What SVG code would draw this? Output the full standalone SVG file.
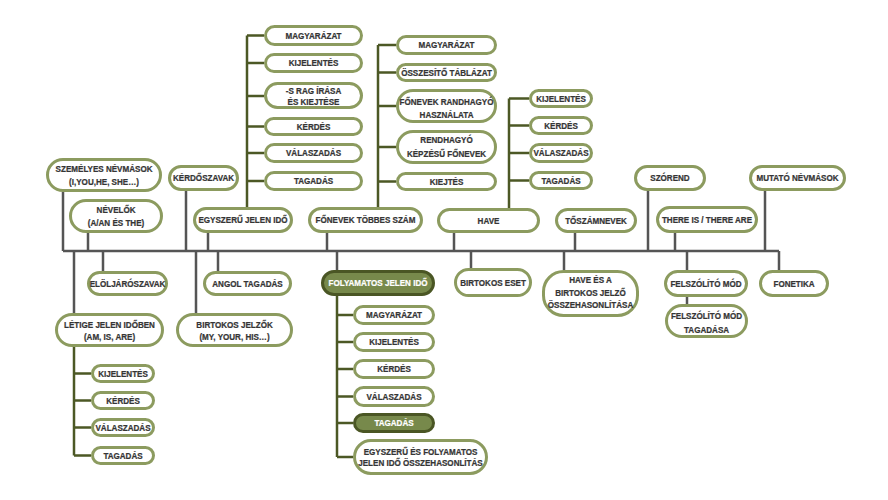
<svg xmlns="http://www.w3.org/2000/svg" width="888" height="500" viewBox="0 0 888 500">
<style>
.n rect{fill:#fff;stroke:#8c9b5f;stroke-width:3}
.n.f rect{fill:#77894b;stroke:#4a5624}
text{font-family:"Liberation Sans",Arial,sans-serif;font-weight:bold;font-size:9.5px;fill:#353535;stroke:#353535;stroke-width:0.25;text-anchor:middle;transform-box:fill-box;transform-origin:center;transform:scaleX(0.85)}
.n.f text{fill:#fff;stroke:#fff}
.trunk{stroke:#555;stroke-width:2.5;fill:none}
.branch{stroke:#4c5825;stroke-width:2.5;fill:none}
</style>
<rect width="888" height="500" fill="#fff"/>
<g id="connectors">
<path class="trunk" d="M63,251H779 M63,192V251 M88,233V251 M186,191V251 M208,233V251 M327,233V251 M454,233V251 M575,233V251 M648,191V251 M675,233V251 M765,191V251 M74,251V313 M103,251V271 M196,251V313 M218,251V271 M337,251V270 M471,251V268 M564,251V270 M687,251V270 M779,251V270 M687,297V304"/>
<path class="branch" d="M74,347V455.5 M74,373.5H91 M74,400.5H91 M74,427.5H91 M74,455.5H91"/>
<path class="branch" d="M247,35.5V207 M247,35.5H264 M247,63H264 M247,96H264 M247,126.5H264 M247,153H264 M247,181H264"/>
<path class="branch" d="M378,45V207 M378,45H396 M378,72.5H396 M378,106H396 M378,147H396 M378,181.5H396"/>
<path class="branch" d="M509,98.5V208 M509,98.5H529 M509,125.5H529 M509,153H529 M509,180.5H529"/>
<path class="branch" d="M337,296V457 M337,315H353 M337,342H353 M337,369H353 M337,396.5H353 M337,423H353 M337,457H353"/>
</g>
<g id="szemelyes" class="n"><rect x="47.5" y="159.5" width="113" height="31" rx="15.5"/><text x="104" y="172.4">SZEMÉLYES NÉVMÁSOK</text><text x="104" y="185.1">(I,YOU,HE, SHE…)</text></g>
<g id="nevelok" class="n"><rect x="70.5" y="200.5" width="91" height="31" rx="15.5"/><text x="116" y="213.4">NÉVELŐK</text><text x="116" y="225.7">(A/AN ÉS THE)</text></g>
<g id="kerdoszavak" class="n"><rect x="169.5" y="166.5" width="68" height="23" rx="11.5"/><text x="203.5" y="181.4">KÉRDŐSZAVAK</text></g>
<g id="egyszeru" class="n"><rect x="194.5" y="208.5" width="97" height="23" rx="11.5"/><text x="243" y="223.4">EGYSZERŰ JELEN IDŐ</text></g>
<g id="eloljaro" class="n"><rect x="88.5" y="272.5" width="78" height="22" rx="11"/><text x="127.5" y="286.9">ELÖLJÁRÓSZAVAK</text></g>
<g id="angol" class="n"><rect x="204.5" y="272.5" width="86" height="22" rx="11"/><text x="247.5" y="286.9">ANGOL TAGADÁS</text></g>
<g id="letige" class="n"><rect x="56.5" y="314.5" width="106" height="31" rx="15.5"/><text x="109.5" y="327.7">LÉTIGE JELEN IDŐBEN</text><text x="109.5" y="340.1">(AM, IS, ARE)</text></g>
<g id="birtjelz" class="n"><rect x="177.5" y="314.5" width="114" height="31" rx="15.5"/><text x="234.5" y="327.7">BIRTOKOS JELZŐK</text><text x="234.5" y="340.1">(MY, YOUR, HIS…)</text></g>
<g id="letige-kij" class="n"><rect x="92.5" y="365.5" width="61" height="16" rx="8"/><text x="123" y="377">KIJELENTÉS</text></g>
<g id="letige-ker" class="n"><rect x="92.5" y="392.5" width="61" height="16" rx="8"/><text x="123" y="404">KÉRDÉS</text></g>
<g id="letige-val" class="n"><rect x="92.5" y="419.5" width="61" height="16" rx="8"/><text x="123" y="431">VÁLASZADÁS</text></g>
<g id="letige-tag" class="n"><rect x="92.5" y="447.5" width="61" height="16" rx="8"/><text x="123" y="459">TAGADÁS</text></g>
<g id="egy-magy" class="n"><rect x="265.5" y="26.5" width="96" height="18" rx="9"/><text x="313.5" y="38.9">MAGYARÁZAT</text></g>
<g id="egy-kij" class="n"><rect x="265.5" y="54.5" width="96" height="17" rx="8.5"/><text x="313.5" y="66.4">KIJELENTÉS</text></g>
<g id="egy-srag" class="n"><rect x="265.5" y="83.5" width="96" height="24" rx="12"/><text x="313.5" y="94.4">-S RAG ÍRÁSA</text><text x="313.5" y="105.1">ÉS KIEJTÉSE</text></g>
<g id="egy-ker" class="n"><rect x="265.5" y="118.5" width="96" height="16" rx="8"/><text x="313.5" y="129.9">KÉRDÉS</text></g>
<g id="egy-val" class="n"><rect x="265.5" y="144.5" width="96" height="17" rx="8.5"/><text x="313.5" y="156.4">VÁLASZADÁS</text></g>
<g id="egy-tag" class="n"><rect x="265.5" y="172.5" width="96" height="17" rx="8.5"/><text x="313.5" y="184.4">TAGADÁS</text></g>
<g id="fonevek" class="n"><rect x="309.5" y="208.5" width="112" height="23" rx="11.5"/><text x="365.5" y="223.4">FŐNEVEK TÖBBES SZÁM</text></g>
<g id="fon-magy" class="n"><rect x="397.5" y="36.5" width="98" height="17" rx="8.5"/><text x="446.5" y="48.4">MAGYARÁZAT</text></g>
<g id="fon-ossz" class="n"><rect x="397.5" y="64.5" width="98" height="16" rx="8"/><text x="446.5" y="75.9">ÖSSZESÍTŐ TÁBLÁZAT</text></g>
<g id="fon-rand" class="n"><rect x="397.5" y="90.5" width="98" height="31" rx="15.5"/><text x="446.5" y="105.1">FŐNEVEK RANDHAGYÓ</text><text x="446.5" y="117.7">HASZNÁLATA</text></g>
<g id="fon-rend" class="n"><rect x="397.5" y="131.5" width="98" height="31" rx="15.5"/><text x="446.5" y="143.4">RENDHAGYÓ</text><text x="446.5" y="156.7">KÉPZÉSŰ FŐNEVEK</text></g>
<g id="fon-kiej" class="n"><rect x="397.5" y="173.5" width="98" height="16" rx="8"/><text x="446.5" y="184.9">KIEJTÉS</text></g>
<g id="have" class="n"><rect x="438.5" y="209.5" width="100" height="22" rx="11"/><text x="488.5" y="224">HAVE</text></g>
<g id="have-kij" class="n"><rect x="530.5" y="90.5" width="61" height="16" rx="8"/><text x="561" y="101.9">KIJELENTÉS</text></g>
<g id="have-ker" class="n"><rect x="530.5" y="117.5" width="61" height="16" rx="8"/><text x="561" y="128.9">KÉRDÉS</text></g>
<g id="have-val" class="n"><rect x="530.5" y="144.5" width="61" height="17" rx="8.5"/><text x="561" y="156.4">VÁLASZADÁS</text></g>
<g id="have-tag" class="n"><rect x="530.5" y="172.5" width="61" height="16" rx="8"/><text x="561" y="183.9">TAGADÁS</text></g>
<g id="toszam" class="n"><rect x="556.5" y="209.5" width="79" height="22" rx="11"/><text x="596" y="224">TŐSZÁMNEVEK</text></g>
<g id="birteset" class="n"><rect x="455.5" y="269.5" width="75" height="26" rx="13"/><text x="493" y="286">BIRTOKOS ESET</text></g>
<g id="havees" class="n"><rect x="543.5" y="271.5" width="94" height="44" rx="20"/><text x="590.5" y="283.4">HAVE ÉS A</text><text x="590.5" y="295.7">BIRTOKOS JELZŐ</text><text x="590.5" y="308.4">ÖSSZEHASONLÍTÁSA</text></g>
<g id="szorend" class="n"><rect x="635.5" y="166.5" width="69" height="23" rx="11.5"/><text x="670" y="181.4">SZÓREND</text></g>
<g id="thereis" class="n"><rect x="657.5" y="207.5" width="99" height="24" rx="12"/><text x="707" y="223">THERE IS / THERE ARE</text></g>
<g id="mutato" class="n"><rect x="750.5" y="166.5" width="94" height="23" rx="11.5"/><text x="797.5" y="181.4">MUTATÓ NÉVMÁSOK</text></g>
<g id="felsz" class="n"><rect x="665.5" y="271.5" width="81" height="24" rx="12"/><text x="706" y="286.9">FELSZÓLÍTÓ MÓD</text></g>
<g id="felszneg" class="n"><rect x="666.5" y="305.5" width="80" height="31" rx="15.5"/><text x="706.5" y="319.4">FELSZÓLÍTÓ MÓD</text><text x="706.5" y="332.7">TAGADÁSA</text></g>
<g id="fonetika" class="n"><rect x="760.5" y="271.5" width="67" height="24" rx="12"/><text x="794" y="287">FONETIKA</text></g>
<g id="folyamatos" class="n f"><rect x="322.5" y="271.5" width="111" height="23" rx="11.5"/><text x="378" y="286.4">FOLYAMATOS JELEN IDŐ</text></g>
<g id="foly-magy" class="n"><rect x="354.5" y="306.5" width="79" height="17" rx="8.5"/><text x="394" y="318.4">MAGYARÁZAT</text></g>
<g id="foly-kij" class="n"><rect x="354.5" y="333.5" width="79" height="17" rx="8.5"/><text x="394" y="345.4">KIJELENTÉS</text></g>
<g id="foly-ker" class="n"><rect x="354.5" y="360.5" width="79" height="17" rx="8.5"/><text x="394" y="372.4">KÉRDÉS</text></g>
<g id="foly-val" class="n"><rect x="354.5" y="387.5" width="79" height="18" rx="9"/><text x="394" y="399.9">VÁLASZADÁS</text></g>
<g id="foly-tag" class="n f"><rect x="354.5" y="414.5" width="79" height="17" rx="8.5"/><text x="394" y="426.4">TAGADÁS</text></g>
<g id="foly-osszeh" class="n"><rect x="354.5" y="440.5" width="132" height="33" rx="16.5"/><text x="420.5" y="455.1">EGYSZERŰ ÉS FOLYAMATOS</text><text x="420.5" y="465.7">JELEN IDŐ ÖSSZEHASONLÍTÁS</text></g>
</svg>
